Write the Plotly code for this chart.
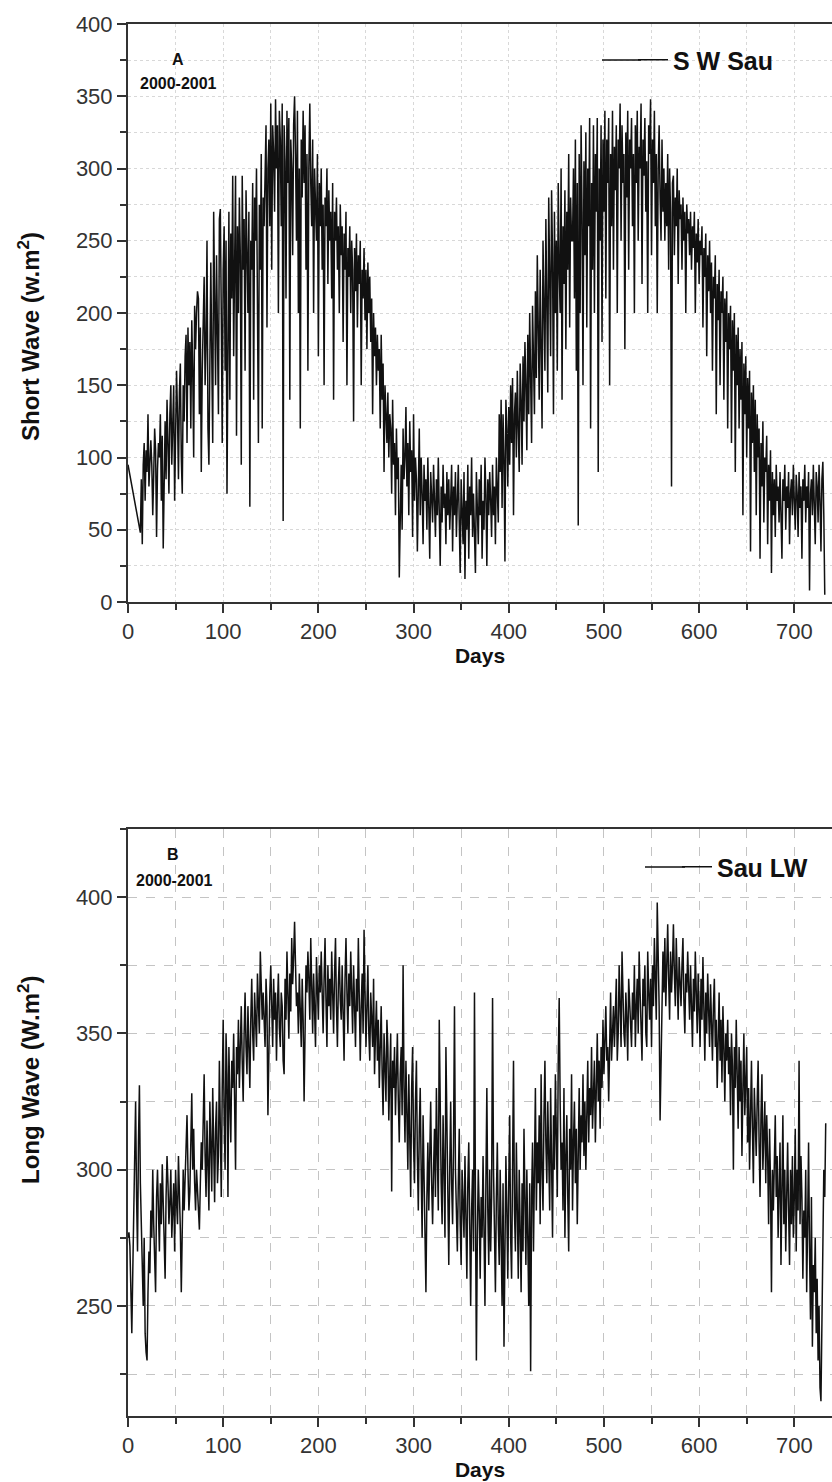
import plotly.graph_objects as go
from plotly.subplots import make_subplots

# ---------------- Data ----------------
# Short wave (Sau), 2000-2001: first reading at day 0, then daily from day 13
sw_head_days = [0]
sw_head_vals = [95]
sw_start_day = 13
sw_vals = [
    48, 85, 40, 95, 110, 70, 105, 90, 130, 80,        # 13-22
    100, 112, 95, 60, 88, 120, 105, 45, 92, 110,      # 23-32
    100, 130, 70, 115, 37, 98, 125, 85, 140, 110,     # 33-42
    75, 130, 150, 95, 120, 150, 70, 110, 160, 130,    # 43-52
    85, 145, 165, 100, 75, 150, 125, 170, 185, 110,   # 53-62
    190, 150, 180, 120, 195, 160, 100, 205, 175, 200, # 63-72
    215, 210, 130, 190, 90, 160, 200, 225, 150, 180,  # 73-82
    250, 120, 95, 210, 235, 170, 110, 270, 190, 150,  # 83-92
    240, 180, 130, 265, 272, 200, 110, 230, 260, 160, # 93-102
    250, 75, 220, 270, 140, 255, 210, 295, 170, 240,  # 103-112
    295, 115, 260, 200, 280, 240, 95, 295, 230, 265,  # 113-122
    160, 285, 250, 200, 270, 66, 250, 230, 290, 140,  # 123-132
    280, 250, 300, 180, 110, 275, 230, 310, 120, 280, # 133-142
    260, 295, 330, 190, 300, 320, 260, 345, 230, 330, # 143-152
    310, 270, 348, 300, 330, 200, 340, 320, 260, 345, # 153-162
    56, 330, 305, 210, 340, 290, 335, 140, 320, 300,  # 163-172
    240, 330, 350, 310, 250, 340, 200, 300, 120, 320, # 173-182
    280, 340, 290, 330, 230, 310, 160, 300, 345, 290, # 183-192
    260, 320, 200, 300, 280, 250, 310, 170, 290, 260, # 193-202
    300, 230, 275, 150, 280, 260, 300, 220, 285, 250, # 203-212
    270, 210, 290, 140, 270, 250, 280, 230, 260, 200, # 213-222
    275, 240, 260, 180, 255, 230, 270, 150, 245, 225, # 223-232
    260, 200, 250, 230, 125, 245, 215, 255, 190, 240, # 233-242
    220, 250, 150, 230, 210, 245, 195, 230, 175, 235, # 243-252
    200, 225, 180, 210, 130, 200, 170, 190, 150, 185, # 253-262
    160, 175, 120, 185, 140, 165, 90, 150, 130, 110,  # 263-272
    145, 100, 130, 120, 75, 140, 95, 110, 60, 120,    # 273-282
    85, 100, 17, 70, 95, 50, 120, 85, 100, 135,       # 283-292
    80, 110, 60, 125, 90, 105, 45, 130, 70, 100,      # 293-302
    85, 35, 95, 120, 60, 100, 75, 40, 95, 70,         # 303-312
    85, 50, 100, 65, 30, 90, 75, 55, 95, 70,          # 313-322
    45, 85, 60, 100, 70, 25, 80, 55, 95, 65,          # 323-332
    75, 40, 90, 60, 85, 50, 70, 95, 35, 80,           # 333-342
    60, 90, 45, 75, 95, 55, 20, 85, 60, 40,           # 343-352
    90, 16, 70, 50, 95, 30, 80, 60, 100, 45,          # 353-362
    75, 55, 20, 90, 65, 40, 85, 60, 95, 30,           # 363-372
    70, 50, 100, 75, 25, 85, 60, 90, 70, 45,          # 373-382
    95, 60, 80, 40, 100, 70, 55, 130, 90, 140,        # 383-392
    65, 130, 100, 28, 140, 120, 80, 135, 95, 150,     # 393-402
    110, 155, 60, 130, 145, 100, 160, 120, 90, 165,   # 403-412
    140, 95, 170, 125, 180, 150, 105, 185, 130, 200,  # 413-422
    160, 110, 205, 175, 130, 215, 155, 240, 190, 140, # 423-432
    230, 185, 120, 250, 200, 160, 265, 210, 145, 280, # 433-442
    220, 170, 285, 240, 130, 270, 200, 250, 160, 290, # 443-452
    230, 200, 300, 140, 260, 220, 285, 175, 270, 230, # 453-462
    310, 190, 280, 250, 250, 300, 210, 320, 160, 290, # 463-472
    53, 310, 200, 330, 270, 150, 305, 240, 325, 190,  # 473-482
    300, 260, 335, 120, 290, 230, 330, 200, 310, 270, # 483-492
    335, 90, 300, 250, 330, 180, 320, 270, 340, 210,  # 493-502
    320, 290, 335, 150, 310, 260, 340, 230, 315, 285, # 503-512
    330, 200, 320, 300, 345, 250, 330, 290, 310, 175, # 513-522
    325, 280, 340, 230, 320, 300, 335, 260, 310, 200, # 523-532
    330, 290, 340, 250, 315, 300, 345, 220, 320, 295, # 533-542
    335, 270, 305, 200, 330, 310, 348, 240, 320, 290, # 543-552
    340, 260, 310, 200, 300, 330, 280, 250, 320, 270, # 553-562
    300, 250, 290, 260, 310, 230, 300, 270, 80, 290,  # 563-572
    295, 240, 280, 260, 300, 220, 285, 265, 275, 230, # 573-582
    280, 250, 270, 200, 275, 255, 265, 240, 270, 230, # 583-592
    260, 245, 270, 200, 255, 235, 265, 220, 250, 240, # 593-602
    260, 190, 245, 225, 255, 170, 240, 215, 250, 200, # 603-612
    235, 160, 225, 210, 240, 130, 220, 195, 230, 150, # 613-622
    215, 200, 225, 140, 210, 180, 215, 120, 200, 175, # 623-632
    205, 110, 195, 160, 200, 90, 185, 150, 190, 120,  # 633-642
    175, 140, 180, 60, 165, 130, 170, 100, 155, 120,  # 643-652
    160, 35, 145, 110, 150, 90, 140, 60, 130, 100,    # 653-662
    120, 30, 110, 80, 125, 55, 100, 90, 115, 40,      # 663-672
    95, 70, 105, 20, 90, 60, 85, 45, 95, 70,          # 673-682
    80, 55, 90, 65, 30, 85, 70, 95, 50, 80,           # 683-692
    65, 90, 40, 75, 85, 60, 95, 70, 50, 88,           # 693-702
    75, 45, 90, 65, 80, 30, 85, 70, 95, 55,           # 703-712
    80, 65, 90, 8, 75, 85, 60, 95, 70, 40,            # 713-722
    90, 80, 55, 95, 70, 35, 85, 97, 60, 5,            # 723-732
]

# Long wave (Sau), 2000-2001: daily from day 0
lw_start_day = 0
lw_vals = [
    275, 277, 272, 255, 240, 262, 285, 300, 325, 290,
    270, 310, 331, 295, 280, 262, 250, 275, 240, 233,
    230, 255, 270, 262, 285, 275, 300, 280, 265, 255,
    290, 300, 285, 270, 295, 280, 302, 288, 275, 260,
    290, 305, 295, 280, 288, 300, 275, 285, 295, 270,
    300, 288, 280, 305, 292, 278, 255, 290, 300, 285,
    295, 308, 320, 300, 285, 292, 310, 328, 300, 315,
    295, 285, 300, 290, 282, 278, 295, 310, 300, 320,
    335, 305, 290, 318, 300, 285, 325, 310, 292, 330,
    300, 288, 315, 325, 295, 305, 340, 310, 290, 330,
    355, 320, 300, 350, 335, 290, 345, 325, 310, 340,
    330, 350, 320, 300, 345, 335, 355, 330, 345, 360,
    340, 325, 350, 365, 345, 335, 360, 345, 330, 355,
    370, 350, 340, 365, 355, 345, 372, 360, 350, 380,
    362, 355, 365, 350, 345, 370, 360, 320, 350, 365,
    375, 360, 345, 370, 355, 365, 340, 360, 372, 352,
    345, 365, 360, 340, 335, 370, 355, 380, 362, 348,
    372, 358, 385, 368, 378, 391, 375, 360, 365, 350,
    372, 360, 345, 370, 355, 325, 350, 375, 365, 380,
    370, 355, 385, 365, 350, 372, 360, 345, 378, 368,
    355, 375, 365, 380, 360, 350, 370, 385, 362, 345,
    375, 360, 370, 355, 380, 365, 350, 372, 385, 360,
    345, 368, 378, 362, 355, 375, 360, 340, 370, 385,
    365, 350, 372, 360, 380, 368, 350, 375, 362, 345,
    370, 358, 385, 365, 340, 360, 372, 350, 388, 365,
    345, 360, 375, 350, 340, 365, 355, 345, 370, 335,
    350, 362, 340, 355, 330, 345, 360, 335, 320, 350,
    340, 325, 355, 345, 318, 335, 350, 292, 340, 330,
    345, 320, 338, 350, 325, 310, 335, 345, 320, 375,
    330, 310, 340, 325, 300, 335, 315, 290, 330, 345,
    310, 295, 325, 340, 305, 285, 315, 330, 300, 275,
    320, 295, 270, 255, 290, 310, 285, 305, 325, 295,
    280, 300, 315, 290, 330, 305, 285, 355, 310, 295,
    280, 320, 300, 275, 345, 310, 290, 265, 300, 325,
    295, 280, 310, 360, 300, 285, 270, 295, 315, 280,
    265, 300, 290, 275, 305, 285, 260, 295, 310, 280,
    250, 285, 300, 270, 365, 290, 230, 275, 300, 285,
    260, 290, 275, 305, 280, 250, 295, 330, 285, 265,
    300, 270, 290, 363, 300, 275, 255, 290, 310, 280,
    265, 300, 280, 250, 295, 235, 270, 305, 285, 260,
    295, 320, 275, 260, 300, 340, 285, 270, 310, 290,
    260, 300, 280, 255, 295, 270, 315, 290, 265, 300,
    280, 250, 295, 226, 290, 310, 270, 300, 330, 285,
    310, 295, 320, 280, 335, 300, 285, 320, 340, 310,
    295, 325, 305, 285, 330, 310, 275, 320, 300, 335,
    315, 290, 340, 363, 325, 300, 310, 285, 330, 275,
    305, 320, 290, 270, 315, 300, 335, 285, 310, 325,
    295, 315, 280, 305, 330, 300, 320, 310, 335, 305,
    325, 300, 315, 340, 310, 330, 320, 345, 315, 325,
    340, 310, 335, 350, 325, 340, 315, 345, 330, 355,
    335, 350, 360, 340, 345, 325, 355, 365, 340, 350,
    360, 345, 355, 370, 340, 350, 375, 355, 345, 380,
    360, 350, 345, 365, 355, 340, 370, 360, 350, 345,
    365, 355, 375, 345, 360, 370, 350, 380, 365, 355,
    340, 370, 360, 375, 350, 345, 380, 365, 355, 370,
    345, 375, 360, 385, 370, 355, 398, 375, 360, 318,
    345, 370, 380, 365, 385, 360, 375, 390, 370, 355,
    380, 365, 375, 390, 372, 360, 385, 370, 355, 378,
    368, 360, 375, 385, 362, 350, 372, 365, 380, 360,
    355, 375, 362, 345, 370, 358, 380, 365, 350, 372,
    360, 345, 370, 355, 378, 362, 340, 365, 350, 372,
    358, 345, 368, 352, 340, 360, 370, 345, 355, 330,
    350, 365, 340, 355, 332, 360, 345, 325, 350, 340,
    355, 335, 345, 320, 350, 338, 300, 345, 330, 355,
    335, 315, 345, 325, 340, 305, 330, 350, 320, 335,
    345, 310, 330, 300, 325, 340, 315, 295, 330, 320,
    305, 325, 340, 310, 290, 320, 335, 300, 315, 325,
    295, 320, 305, 280, 315, 295, 255, 300, 285, 310,
    320, 290, 305, 275, 300, 310, 265, 290, 320, 280,
    300, 270, 295, 310, 285, 265, 300, 280, 305, 275,
    290, 315, 270, 300, 285, 340, 280, 305, 290, 260,
    285, 275, 300, 255, 280, 310, 270, 245, 290, 235,
    265, 255, 275, 240, 260, 230, 250, 220, 215, 245,
    280, 300, 290, 317,
]

sw_days = sw_head_days + [sw_start_day + i for i in range(len(sw_vals))]
sw_all = sw_head_vals + sw_vals
lw_days = [lw_start_day + i for i in range(len(lw_vals))]

# ---------------- Figure ----------------
W, H = 832, 1482
ML, MR, MT, MB = 128, 0, 24, 66
plot_w = W - ML - MR
plot_h = H - MT - MB

top_dom = [(1416 - 602) / plot_h, 1.0]
bot_dom = [0.0, (1416 - 829) / plot_h]

FONT = "Liberation Sans, Arial, Helvetica, sans-serif"
AX = "#333333"
INK = "#111111"
LW = 1.5


def px_x(px):
    return (px - ML) / plot_w


def px_y(py):
    return (H - MB - py) / plot_h


fig = make_subplots(rows=2, cols=1)

fig.add_trace(go.Scatter(x=sw_days, y=sw_all, mode="lines", name="S W Sau",
                         line=dict(color=INK, width=LW), legend="legend"),
              row=1, col=1)
fig.add_trace(go.Scatter(x=lw_days, y=lw_vals, mode="lines", name="Sau LW",
                         line=dict(color=INK, width=LW), legend="legend2"),
              row=2, col=1)

xcommon = dict(
    range=[0, 739.6], showline=True, linecolor=AX, linewidth=2, mirror=True,
    ticks="outside", ticklen=9, tickwidth=2, tickcolor=AX,
    tickvals=[0, 100, 200, 300, 400, 500, 600, 700],
    tickfont=dict(family=FONT, size=22, color=AX),
    zeroline=False,
    title=dict(text="Days", font=dict(family=FONT, size=21, color=INK, weight="bold"),
               standoff=0),
)

fig.update_xaxes(**xcommon, row=1, col=1)
fig.update_xaxes(**xcommon, row=2, col=1)

fig.update_xaxes(showgrid=True, gridcolor="#d8d8d8", griddash="dot", gridwidth=1,
                 minor=dict(dtick=50, tick0=0, ticks="outside", ticklen=6, tickwidth=2,
                            tickcolor=AX, showgrid=True, gridcolor="#d8d8d8",
                            griddash="dot", gridwidth=1),
                 row=1, col=1)
fig.update_xaxes(showgrid=True, gridcolor="#c4c4c4", griddash="dash", gridwidth=1,
                 minor=dict(dtick=50, tick0=0, ticks="outside", ticklen=6, tickwidth=2,
                            tickcolor=AX, showgrid=True, gridcolor="#c4c4c4",
                            griddash="dash", gridwidth=1),
                 row=2, col=1)

fig.update_yaxes(
    domain=top_dom, range=[0, 400], showline=True, linecolor=AX, linewidth=2, mirror=False,
    ticks="outside", ticklen=9, tickwidth=2, tickcolor=AX,
    tickvals=[0, 50, 100, 150, 200, 250, 300, 350, 400],
    tickfont=dict(family=FONT, size=22, color=AX), zeroline=False,
    showgrid=True, gridcolor="#d8d8d8", griddash="dot", gridwidth=1,
    minor=dict(dtick=25, tick0=0, ticks="outside", ticklen=6, tickwidth=2, tickcolor=AX,
               showgrid=True, gridcolor="#d8d8d8", griddash="dot", gridwidth=1),
    row=1, col=1)

fig.update_yaxes(
    domain=bot_dom, range=[209.6, 425], showline=True, linecolor=AX, linewidth=2, mirror=False,
    ticks="outside", ticklen=9, tickwidth=2, tickcolor=AX,
    tickvals=[250, 300, 350, 400],
    tickfont=dict(family=FONT, size=22, color=AX), zeroline=False,
    showgrid=True, gridcolor="#c4c4c4", griddash="dash", gridwidth=1,
    minor=dict(dtick=25, tick0=0, ticks="outside", ticklen=6, tickwidth=2, tickcolor=AX,
               showgrid=True, gridcolor="#c4c4c4", griddash="dash", gridwidth=1),
    row=2, col=1)

LEG_FONT = dict(family=FONT, size=25, color=INK, weight="bold")
fig.update_layout(
    width=W, height=H,
    margin=dict(l=ML, r=MR, t=MT, b=MB, autoexpand=False),
    paper_bgcolor="white", plot_bgcolor="white",
    font=dict(family=FONT, color=AX),
    showlegend=True,
    legend=dict(x=px_x(633), y=px_y(60), xanchor="left", yanchor="middle",
                bgcolor="rgba(0,0,0,0)", font=LEG_FONT),
    legend2=dict(x=px_x(677), y=px_y(867), xanchor="left", yanchor="middle",
                 bgcolor="rgba(0,0,0,0)", font=LEG_FONT),
)

# lengthen the legend line samples to match the original's long keys
fig.add_shape(type="line", xref="paper", yref="paper",
              x0=px_x(602), x1=px_x(641), y0=px_y(60), y1=px_y(60),
              line=dict(color=INK, width=LW))
fig.add_shape(type="line", xref="paper", yref="paper",
              x0=px_x(645), x1=px_x(685), y0=px_y(867), y1=px_y(867),
              line=dict(color=INK, width=LW))

# y-axis titles
TITLE_FONT = dict(family=FONT, size=24, color=INK, weight="bold")
fig.add_annotation(text="Short Wave (w.m<sup>2</sup>)", textangle=-90,
                   x=px_x(29), y=px_y(337), xref="paper", yref="paper",
                   xanchor="center", yanchor="middle", showarrow=False, font=TITLE_FONT)
fig.add_annotation(text="Long Wave (W.m<sup>2</sup>)", textangle=-90,
                   x=px_x(29), y=px_y(1080), xref="paper", yref="paper",
                   xanchor="center", yanchor="middle", showarrow=False, font=TITLE_FONT)

ann_font = dict(family=FONT, size=16, color=INK, weight="bold")
for txt, xx, yy, xr, yr, dom in [
    ("A", 178, 59, "x domain", "y domain", (24, 602)),
    ("2000-2001", 178, 83, "x domain", "y domain", (24, 602)),
    ("B", 173, 854, "x2 domain", "y2 domain", (829, 1416)),
    ("2000-2001", 174, 880, "x2 domain", "y2 domain", (829, 1416)),
]:
    fig.add_annotation(text=txt, x=(xx - ML) / plot_w,
                       y=(dom[1] - yy) / (dom[1] - dom[0]),
                       xref=xr, yref=yr, xanchor="center", yanchor="middle",
                       showarrow=False, font=ann_font)

fig.write_html("out.html")
